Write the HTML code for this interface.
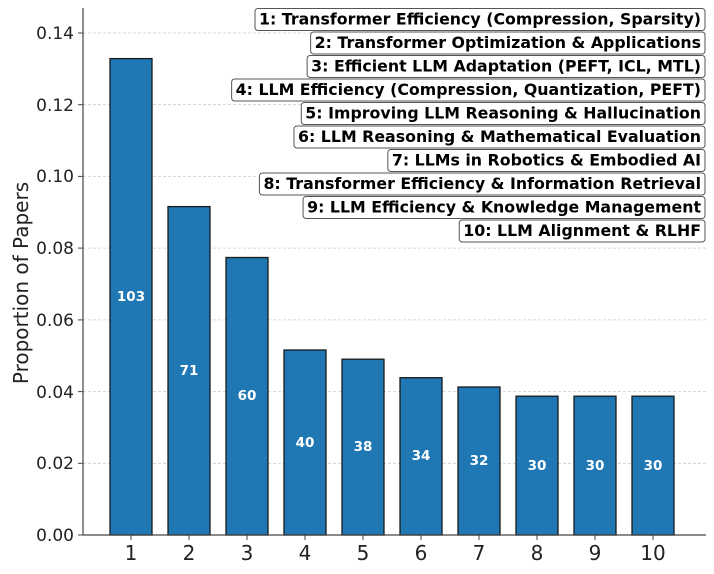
<!DOCTYPE html><html><head><style>body{margin:0;background:#fff}</style></head><body>
<svg width="714" height="569" xmlns="http://www.w3.org/2000/svg" font-family="DejaVu Sans, sans-serif">
<g stroke="#ccc" stroke-dasharray="3,2" stroke-width="0.8">
<line x1="83" x2="706" y1="463.3" y2="463.3"/><line x1="83" x2="706" y1="391.6" y2="391.6"/><line x1="83" x2="706" y1="319.9" y2="319.9"/><line x1="83" x2="706" y1="248.1" y2="248.1"/><line x1="83" x2="706" y1="176.4" y2="176.4"/><line x1="83" x2="706" y1="104.7" y2="104.7"/><line x1="83" x2="706" y1="33" y2="33"/>
</g>
<g fill="#1f77b4" stroke="#1a1a1a" stroke-width="1.3">
<rect x="110" y="58.6" width="42" height="476.4"/>
<rect x="168" y="206.6" width="42" height="328.4"/>
<rect x="226" y="257.5" width="42" height="277.5"/>
<rect x="284" y="350" width="42" height="185"/>
<rect x="342" y="359.2" width="42" height="175.8"/>
<rect x="400" y="377.7" width="42" height="157.3"/>
<rect x="458" y="387" width="42" height="148"/>
<rect x="516" y="396.2" width="42" height="138.8"/>
<rect x="574" y="396.2" width="42" height="138.8"/>
<rect x="632" y="396.2" width="42" height="138.8"/>
</g>
<g fill="#fff" font-weight="bold" font-size="13.5" text-anchor="middle">
<text x="131" y="301">103</text><text x="189" y="375">71</text><text x="247" y="400">60</text><text x="305" y="447">40</text><text x="363" y="451">38</text><text x="421" y="460">34</text><text x="479" y="465">32</text><text x="537" y="470">30</text><text x="595" y="470">30</text><text x="653" y="470">30</text>
</g>
<g stroke="#444" stroke-width="1.2"><line x1="83" y1="8" x2="83" y2="535"/><line x1="83" y1="535" x2="706" y2="535"/></g>
<g stroke="#444"><line x1="78" x2="83" y1="535" y2="535"/><line x1="78" x2="83" y1="463.3" y2="463.3"/><line x1="78" x2="83" y1="391.6" y2="391.6"/><line x1="78" x2="83" y1="319.9" y2="319.9"/><line x1="78" x2="83" y1="248.1" y2="248.1"/><line x1="78" x2="83" y1="176.4" y2="176.4"/><line x1="78" x2="83" y1="104.7" y2="104.7"/><line x1="78" x2="83" y1="33" y2="33"/>
<line x1="131" x2="131" y1="535" y2="540"/><line x1="189" x2="189" y1="535" y2="540"/><line x1="247" x2="247" y1="535" y2="540"/><line x1="305" x2="305" y1="535" y2="540"/><line x1="363" x2="363" y1="535" y2="540"/><line x1="421" x2="421" y1="535" y2="540"/><line x1="479" x2="479" y1="535" y2="540"/><line x1="537" x2="537" y1="535" y2="540"/><line x1="595" x2="595" y1="535" y2="540"/><line x1="653" x2="653" y1="535" y2="540"/></g>
<g font-size="17" fill="#222" text-anchor="end">
<text x="74" y="541">0.00</text><text x="74" y="469">0.02</text><text x="74" y="398">0.04</text><text x="74" y="326">0.06</text><text x="74" y="254">0.08</text><text x="74" y="182">0.10</text><text x="74" y="111">0.12</text><text x="74" y="39">0.14</text></g>
<g font-size="20" fill="#222" text-anchor="middle">
<text x="131" y="560">1</text><text x="189" y="560">2</text><text x="247" y="560">3</text><text x="305" y="560">4</text><text x="363" y="560">5</text><text x="421" y="560">6</text><text x="479" y="560">7</text><text x="537" y="560">8</text><text x="595" y="560">9</text><text x="653" y="560">10</text></g>
<text transform="translate(28,283) rotate(-90)" font-size="20" fill="#222" text-anchor="middle">Proportion of Papers</text>
<g font-size="15.8" font-weight="bold" fill="#000">
<g id="lg"></g>
</g>
<script>
const L=["1: Transformer Efficiency (Compression, Sparsity)","2: Transformer Optimization & Applications","3: Efficient LLM Adaptation (PEFT, ICL, MTL)","4: LLM Efficiency (Compression, Quantization, PEFT)","5: Improving LLM Reasoning & Hallucination","6: LLM Reasoning & Mathematical Evaluation","7: LLMs in Robotics & Embodied AI","8: Transformer Efficiency & Information Retrieval","9: LLM Efficiency & Knowledge Management","10: LLM Alignment & RLHF"];
const g=document.getElementById('lg'),ns="http://www.w3.org/2000/svg";
L.forEach((s,i)=>{const cy=19+i*23.5;const t=document.createElementNS(ns,'text');t.setAttribute('x',701);t.setAttribute('y',cy+5.5);t.setAttribute('text-anchor','end');t.textContent=s;g.appendChild(t);const w=t.getComputedTextLength();const r=document.createElementNS(ns,'rect');r.setAttribute('x',701-w-4);r.setAttribute('y',cy-10.5);r.setAttribute('width',w+8);r.setAttribute('height',22);r.setAttribute('rx',3);r.setAttribute('fill','#fff');r.setAttribute('stroke','#555');r.setAttribute('stroke-width','1');g.insertBefore(r,t);});
</script>
</svg></body></html>
